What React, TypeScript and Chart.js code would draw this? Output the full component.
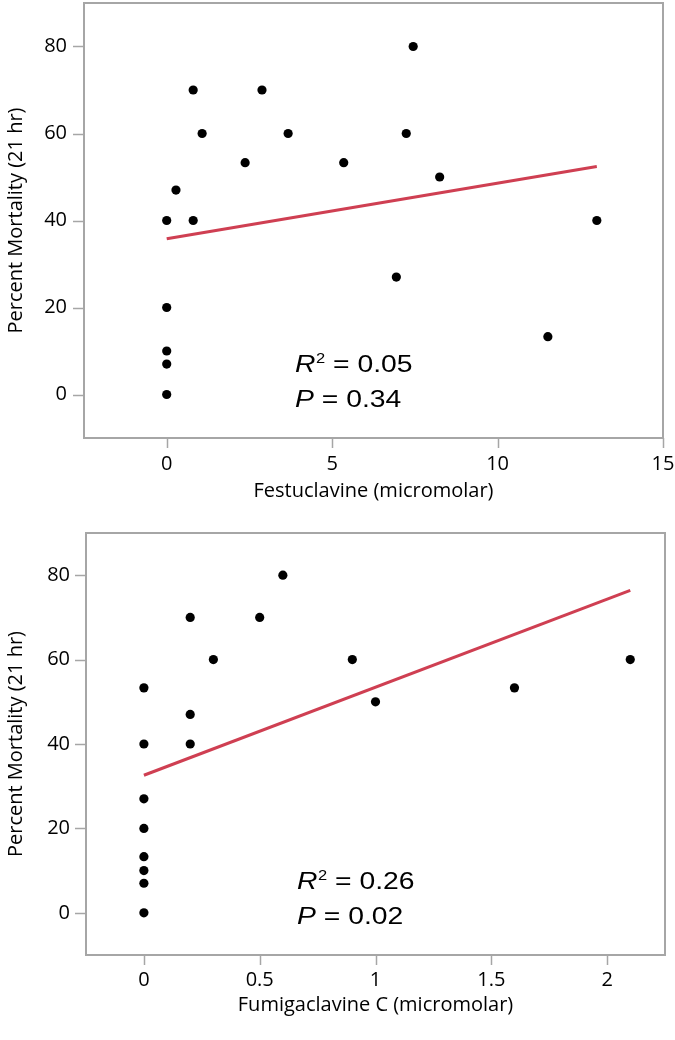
import React, { useEffect, useRef } from 'react';
import { Chart, registerables } from 'chart.js';

Chart.register(...registerables);

// ---------- data ----------
const festuclavineX = [0, 0, 0, 0, 0, 0.28, 0.8, 0.8, 1.07, 2.37, 2.88, 3.67, 5.35, 6.94, 7.24, 7.45, 8.25, 11.52, 13.0];
const festuclavineY = [0, 7, 10, 20, 40, 47, 40, 70, 60, 53.3, 70, 60, 53.3, 27, 60, 80, 50, 13.3, 40];
const festuclavineFitX = [0, 13.0];
const festuclavineFitY = [35.8, 52.4];

const fumigaclavineX = [0, 0, 0, 0, 0, 0, 0, 0, 0.2, 0.2, 0.2, 0.3, 0.5, 0.6, 0.9, 1.0, 1.6, 2.1];
const fumigaclavineY = [0, 7, 10, 13.3, 20, 27, 40, 53.3, 40, 47, 70, 60, 70, 80, 60, 50, 53.3, 60];
const fumigaclavineFitX = [0, 2.1];
const fumigaclavineFitY = [32.6, 76.4];

const yTickLabels = [0, 20, 40, 60, 80];
const festTickLabels = [0, 5, 10, 15];
const fumTickLabels = [0, 0.5, 1, 1.5, 2];

const yTitle = 'Percent Mortality (21 hr)';
const festTitle = 'Festuclavine (micromolar)';
const fumTitle = 'Fumigaclavine C (micromolar)';
const festStats = { r2: '0.05', p: '0.34' };
const fumStats = { r2: '0.26', p: '0.02' };

// ---------- styles ----------
const AXIS_COLOR = '#a6a6a6';
const FIT_COLOR = '#cf3f52';
const UI_FONT = "'Open Sans', 'Noto Sans', sans-serif";
const NOTE_FONT = "'Liberation Sans', Arial, sans-serif";

type PanelProps = {
  top: number;
  height: number;
  xs: number[];
  ys: number[];
  fitX: number[];
  fitY: number[];
  xMin: number;
  xMax: number;
  xStep: number;
  xLabels: number[];
  xTitle: string;
  stats: { r2: string; p: string };
  pad: { left: number; right: number; top: number; bottom: number };
  yAxisWidth: number;
  xAxisHeight: number;
  yTickPad: number;
  xTickPad: number;
  yTitlePad: number;
};

const near = (v: number, list: number[]) => list.some((l) => Math.abs(l - v) < 1e-6);

const zeroPad = (s: any) => {
  s.paddingTop = 0;
  s.paddingBottom = 0;
  s.paddingLeft = 0;
  s.paddingRight = 0;
};

function Panel(props: PanelProps) {
  const ref = useRef<HTMLCanvasElement>(null);
  useEffect(() => {
    if (!ref.current) return;
    const p = props;
    const framePlugin = {
      id: 'frameTicks',
      beforeDatasetsDraw(chart: any) {
        const { ctx, chartArea } = chart;
        const xs = chart.scales.x;
        const ys = chart.scales.y;
        ctx.save();
        ctx.strokeStyle = AXIS_COLOR;
        ctx.lineWidth = 2;
        ctx.strokeRect(chartArea.left, chartArea.top, chartArea.right - chartArea.left, chartArea.bottom - chartArea.top);
        ctx.lineWidth = 1.5;
        ctx.beginPath();
        for (const t of xs.ticks) {
          const px = Math.round(xs.getPixelForValue(t.value)) + 0.5;
          const len = near(t.value, p.xLabels) ? 10 : 5;
          ctx.moveTo(px, chartArea.bottom);
          ctx.lineTo(px, chartArea.bottom + len);
        }
        for (const t of ys.ticks) {
          const py = Math.round(ys.getPixelForValue(t.value)) + 0.5;
          const len = near(t.value, yTickLabels) ? 11 : 5;
          ctx.moveTo(chartArea.left, py);
          ctx.lineTo(chartArea.left - len, py);
        }
        ctx.stroke();
        ctx.restore();
      },
      afterDraw(chart: any) {
        const { ctx, chartArea } = chart;
        const x0 = chartArea.left + 211;
        const b1 = chartArea.bottom - 66.5;
        const b2 = chartArea.bottom - 31.5;
        const sx = 1.18;
        ctx.save();
        ctx.translate(x0, 0);
        ctx.scale(sx, 1);
        ctx.fillStyle = '#000';
        ctx.textBaseline = 'alphabetic';
        ctx.textAlign = 'left';
        ctx.font = `italic 24px ${NOTE_FONT}`;
        ctx.fillText('R', 0, b1);
        let w = ctx.measureText('R').width;
        ctx.font = `14px ${NOTE_FONT}`;
        ctx.fillText('2', w + 0.5, b1 - 8.5);
        w += 0.5 + ctx.measureText('2').width;
        ctx.font = `24px ${NOTE_FONT}`;
        ctx.fillText(' = ' + p.stats.r2, w, b1);
        ctx.font = `italic 24px ${NOTE_FONT}`;
        ctx.fillText('P', 0, b2);
        const wp = ctx.measureText('P').width;
        ctx.font = `24px ${NOTE_FONT}`;
        ctx.fillText(' = ' + p.stats.p, wp, b2);
        ctx.restore();
      },
    };

    const chart = new Chart(ref.current, {
      type: 'scatter',
      data: {
        datasets: [
          {
            data: p.xs.map((x, i) => ({ x, y: p.ys[i] })),
            pointRadius: 4.6,
            pointBackgroundColor: '#000',
            pointBorderWidth: 0,
            borderWidth: 0,
          },
          {
            data: p.fitX.map((x, i) => ({ x, y: p.fitY[i] })),
            showLine: true,
            pointRadius: 0,
            borderColor: FIT_COLOR,
            borderWidth: 3,
            fill: false,
          },
        ],
      },
      options: {
        animation: false,
        responsive: false,
        devicePixelRatio: 1,
        layout: { padding: p.pad, autoPadding: false },
        plugins: { legend: { display: false }, tooltip: { enabled: false } },
        scales: {
          x: {
            type: 'linear',
            min: p.xMin,
            max: p.xMax,
            afterFit: (s: any) => {
              s.height = p.xAxisHeight;
              zeroPad(s);
            },
            border: { display: false },
            grid: { display: false, drawTicks: false },
            ticks: {
              stepSize: p.xStep,
              autoSkip: false,
              maxRotation: 0,
              padding: p.xTickPad,
              color: '#000',
              font: { family: UI_FONT, size: 20 },
              callback: (v: any) => (near(Number(v), p.xLabels) ? String(Math.round(Number(v) * 10) / 10) : null),
            },
            title: {
              display: true,
              text: p.xTitle,
              color: '#000',
              font: { family: UI_FONT, size: 20 },
              padding: { top: 0, bottom: 0 },
            },
          },
          y: {
            type: 'linear',
            min: -10,
            max: 90,
            afterFit: (s: any) => {
              s.width = p.yAxisWidth;
              zeroPad(s);
            },
            border: { display: false },
            grid: { display: false, drawTicks: false },
            ticks: {
              stepSize: 10,
              autoSkip: false,
              padding: p.yTickPad,
              color: '#000',
              font: { family: UI_FONT, size: 20 },
              callback: (v: any) => (near(Number(v), yTickLabels) ? String(v) : null),
            },
            title: {
              display: true,
              text: yTitle,
              color: '#000',
              font: { family: UI_FONT, size: 20 },
              padding: { top: p.yTitlePad, bottom: 0 },
            },
          },
        },
      },
      plugins: [framePlugin],
    } as any);
    return () => chart.destroy();
  }, []);

  return (
    <div style={{ position: 'absolute', left: 0, top: props.top, width: 675, height: props.height }}>
      <canvas ref={ref} width={675} height={props.height} style={{ display: 'block' }} />
    </div>
  );
}

export default function App() {
  return (
    <div style={{ position: 'absolute', left: 0, top: 0, width: 675, height: 1040, background: '#fff' }}>
      <Panel
        top={0}
        height={510}
        xs={festuclavineX}
        ys={festuclavineY}
        fitX={festuclavineFitX}
        fitY={festuclavineFitY}
        xMin={-2.5}
        xMax={15}
        xStep={2.5}
        xLabels={festTickLabels}
        xTitle={festTitle}
        stats={festStats}
        pad={{ left: 0, right: 12, top: 3, bottom: 7 }}
        yAxisWidth={84}
        xAxisHeight={65}
        yTickPad={17}
        xTickPad={14}
        yTitlePad={4}
      />
      <Panel
        top={510}
        height={530}
        xs={fumigaclavineX}
        ys={fumigaclavineY}
        fitX={fumigaclavineFitX}
        fitY={fumigaclavineFitY}
        xMin={-0.25}
        xMax={2.25}
        xStep={0.25}
        xLabels={fumTickLabels}
        xTitle={fumTitle}
        stats={fumStats}
        pad={{ left: 0, right: 10, top: 23, bottom: 23 }}
        yAxisWidth={86}
        xAxisHeight={62}
        yTickPad={16}
        xTickPad={13}
        yTitlePad={4}
      />
    </div>
  );
}
